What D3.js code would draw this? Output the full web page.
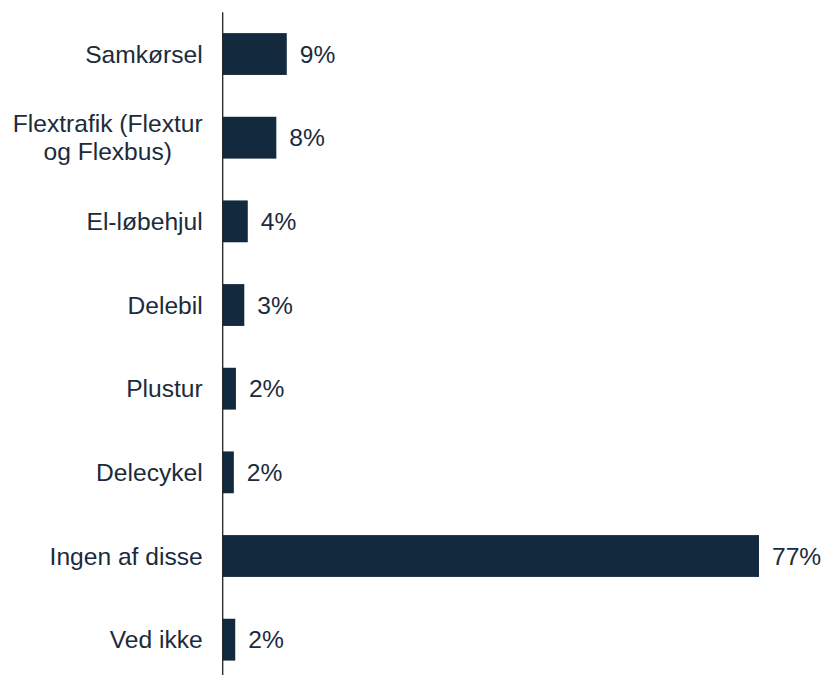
<!DOCTYPE html>
<html>
<head>
<meta charset="utf-8">
<script src="https://cdn.jsdelivr.net/npm/d3@7"></script>
<style>
  body { margin: 0; background: #fff; }
  svg text { font-family: Arial, "Liberation Sans", sans-serif; }
</style>
</head>
<body>
<svg id="chart" width="827" height="675"></svg>
<script>
// categories, top to bottom (second line of a label after "|")
var categories = ["Samkørsel", "Flextrafik (Flextur|og Flexbus)", "El-løbehjul", "Delebil",
                  "Plustur", "Delecykel", "Ingen af disse", "Ved ikke"];
// share in percent
var values = [9.2, 7.7, 3.6, 3.1, 1.9, 1.6, 77, 1.8];
var labels = ["9%", "8%", "4%", "3%", "2%", "2%", "77%", "2%"];

var svg = d3.select("#chart");
var barColor = "#13293d", textColor = "#1b2b3b";

var x0 = 222.7, plotTop = 12.2, plotBottom = 681.5;

var x = d3.scaleLinear().domain([0, 77]).range([x0, 759]);
var y = d3.scaleBand().domain(categories).range([plotTop, plotBottom]).paddingInner(0.5).paddingOuter(0.25);

// bars
svg.append("g").selectAll("rect")
    .data(categories)
    .enter().append("rect")
    .attr("x", x(0))
    .attr("y", function(d) { return y(d); })
    .attr("width", function(d, i) { return x(values[i]) - x(0); })
    .attr("height", y.bandwidth())
    .attr("fill", barColor);

// value labels
svg.append("g").selectAll("text")
    .data(categories)
    .enter().append("text")
    .attr("x", function(d, i) { return x(values[i]) + 13; })
    .attr("y", function(d) { return y(d) + y.bandwidth() / 2; })
    .attr("dy", "0.35em")
    .attr("font-size", "24.6px")
    .attr("fill", textColor)
    .text(function(d, i) { return labels[i]; });

// category labels: block right-aligned to the axis, lines centred in the block
var catG = svg.append("g");
categories.forEach(function(c) {
    var lines = c.split("|");
    var cy = y(c) + y.bandwidth() / 2;
    var right = x0 - 20;
    var t = catG.append("text")
        .attr("font-size", "24.6px")
        .attr("fill", textColor);
    var spans = lines.map(function(l, j) {
        return t.append("tspan")
            .attr("y", cy + (j - (lines.length - 1) / 2) * 28)
            .attr("dy", "0.35em")
            .text(l);
    });
    var widths = spans.map(function(s) { return s.node().getComputedTextLength(); });
    var maxW = d3.max(widths);
    spans.forEach(function(s, j) {
        s.attr("x", right - maxW / 2).attr("text-anchor", "middle");
    });
});

// axis line
svg.append("line")
    .attr("x1", x0).attr("x2", x0)
    .attr("y1", plotTop).attr("y2", 675)
    .attr("stroke", "#222")
    .attr("stroke-width", 1.3);
</script>
</body>
</html>
